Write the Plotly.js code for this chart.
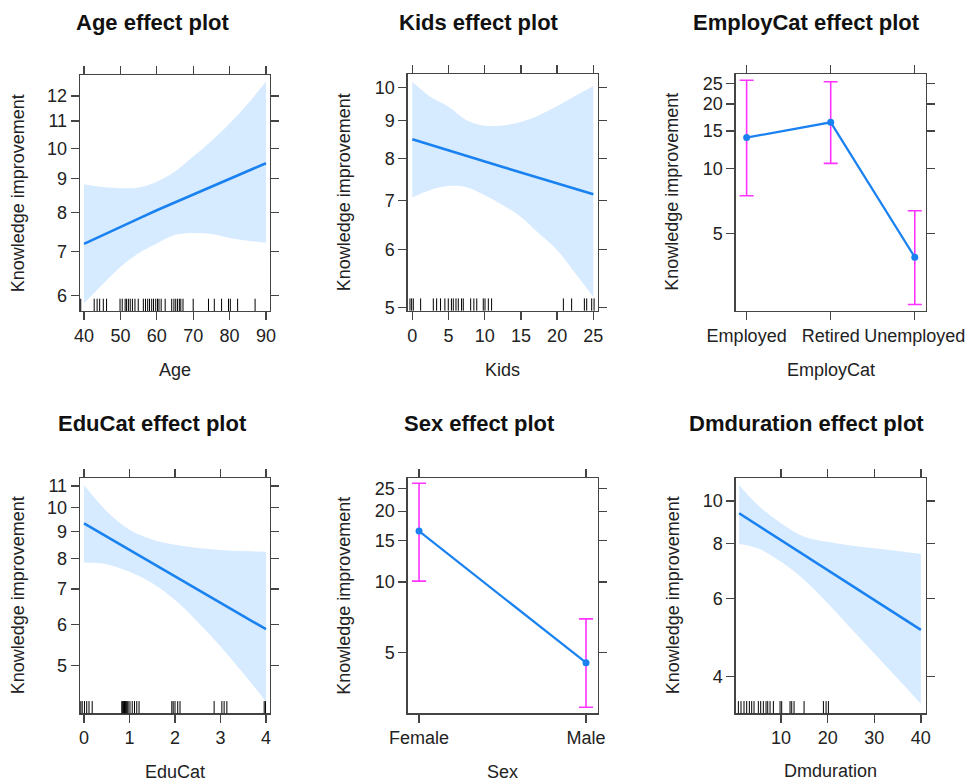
<!DOCTYPE html>
<html>
<head>
<meta charset="utf-8">
<script src="https://cdn.plot.ly/plotly-3.0.1.min.js"></script>
<style>html,body{margin:0;padding:0;background:#fff;}#chart{width:965px;height:783px;}</style>
</head>
<body>
<div id="chart"></div>
<script>
// ---------- DATA ----------
var yTitle = "Knowledge improvement";

// Age
var ageX     = [40, 45, 50, 55, 60, 65, 70, 75, 80, 85, 90];
var ageFit   = [7.18, 7.40, 7.62, 7.84, 8.07, 8.29, 8.51, 8.75, 9.00, 9.25, 9.50];
var ageLower = [5.84, 6.23, 6.63, 6.95, 7.19, 7.41, 7.46, 7.43, 7.33, 7.26, 7.21];
var ageUpper = [8.83, 8.75, 8.71, 8.73, 8.91, 9.23, 9.72, 10.26, 10.90, 11.68, 12.61];
var ageRug   = [39.1, 42.8, 43.6, 44.3, 45.3, 46.2, 49.9, 50.5, 51.3, 51.7, 52.2, 52.7, 53.3, 54.0, 54.9,
                56.3, 56.9, 57.5, 58.0, 58.6, 59.1, 59.7, 60.2, 60.6, 61.2, 62.3, 64.1, 64.7, 65.2, 65.7,
                66.2, 66.6, 67.2, 70.0, 74.2, 75.8, 77.8, 79.7, 80.2, 82.2, 87.0];
var ageXTicks = [40, 50, 60, 70, 80, 90];
var ageYTicks = [6, 7, 8, 9, 10, 11, 12];

// Kids
var kidsX     = [0, 2.5, 5, 7.5, 10, 12.5, 15, 17.5, 20, 22.5, 25];
var kidsFit   = [8.49, 8.34, 8.20, 8.06, 7.92, 7.78, 7.65, 7.52, 7.39, 7.26, 7.14];
var kidsLower = [7.07, 7.24, 7.33, 7.30, 7.12, 6.90, 6.65, 6.31, 5.99, 5.57, 5.17];
var kidsUpper = [10.18, 9.71, 9.41, 9.02, 8.86, 8.87, 8.97, 9.16, 9.43, 9.73, 10.04];
var kidsRug   = [-0.32, -0.09, 0.14, 1.15, 2.9, 3.36, 3.9, 4.5, 4.97, 5.4, 5.66, 6.03, 6.35, 6.8, 7.04,
                 8.06, 8.5, 8.9, 9.8, 10.04, 10.5, 10.95, 20.86, 22.0, 23.76, 24.08, 24.77, 25.1];
var kidsXTicks = [0, 5, 10, 15, 20, 25];
var kidsYTicks = [5, 6, 7, 8, 9, 10];

// EmployCat
var empCats  = ["Employed", "Retired", "Unemployed"];
var empFit   = [13.95, 16.44, 3.87];
var empLower = [7.48, 10.58, 2.33];
var empUpper = [25.8, 25.4, 6.37];
var empYTicks = [5, 10, 15, 20, 25];

// EduCat
var eduX     = [0, 0.5, 1, 1.5, 2, 2.5, 3, 3.5, 4];
var eduFit   = [9.34, 8.81, 8.31, 7.84, 7.39, 6.97, 6.58, 6.21, 5.87];
var eduLower = [7.87, 7.81, 7.55, 7.18, 6.67, 6.06, 5.44, 4.84, 4.27];
var eduUpper = [11.05, 9.85, 9.08, 8.70, 8.50, 8.38, 8.31, 8.27, 8.25];
var eduRug   = [-0.07, -0.04, 0.01, 0.06, 0.11, 0.18, 0.83, 0.85, 0.87, 0.89, 0.91, 0.93, 0.95, 0.97,
                1.01, 1.06, 1.11, 1.16, 1.21, 1.93, 1.96, 2.0, 2.06, 2.11, 2.86, 3.03, 3.08, 3.14, 3.96, 3.99];
var eduXTicks = [0, 1, 2, 3, 4];
var eduYTicks = [5, 6, 7, 8, 9, 10, 11];

// Sex
var sexCats  = ["Female", "Male"];
var sexFit   = [16.45, 4.53];
var sexLower = [10.08, 2.93];
var sexUpper = [26.3, 6.96];
var sexYTicks = [5, 10, 15, 20, 25];

// Dmduration
var dmX     = [1, 5, 10, 15, 20, 25, 30, 35, 40];
var dmFit   = [9.38, 8.81, 8.14, 7.53, 6.97, 6.44, 5.96, 5.51, 5.10];
var dmLower = [7.99, 7.81, 7.28, 6.62, 5.86, 5.14, 4.51, 3.96, 3.47];
var dmUpper = [10.87, 9.79, 8.90, 8.30, 8.08, 7.93, 7.81, 7.70, 7.58];
var dmRug   = [0.84, 1.41, 2.05, 2.63, 3.2, 3.7, 4.2, 5.13, 5.63, 6.2, 6.78, 7.14, 7.64, 8.35, 9.79,
               10.14, 11.93, 12.29, 12.79, 14.94, 19.09, 19.66, 20.16];
var dmXTicks = [10, 20, 30, 40];
var dmYTicks = [4, 6, 8, 10];

// ---------- LAYOUT CONSTANTS ----------
var W = 965, H = 783;
var BLUE = "#1a82f0", BAND = "rgba(0,128,255,0.16)", MAG = "#ff33ff";
var FONT = "Liberation Sans, Arial, sans-serif";

function px(x){ return x / W; }
function py(y){ return 1 - y / H; }

var traces = [];
var shapes = [];
var annotations = [];

function bandPanel(idx, xs, fit, lo, hi, rug){
  var xa = "x" + (idx === 1 ? "" : idx), ya = "y" + (idx === 1 ? "" : idx);
  traces.push({x: xs, y: lo, xaxis: xa, yaxis: ya, mode: "lines",
               line: {width: 0, color: BAND, shape: "spline", smoothing: 1}, hoverinfo: "skip"});
  traces.push({x: xs, y: hi, xaxis: xa, yaxis: ya, mode: "lines", fill: "tonexty",
               fillcolor: BAND, line: {width: 0, color: BAND, shape: "spline", smoothing: 1}, hoverinfo: "skip"});
  traces.push({x: xs, y: fit, xaxis: xa, yaxis: ya, mode: "lines",
               line: {color: BLUE, width: 2.6}, hoverinfo: "skip"});
  rug.forEach(function(v){
    shapes.push({type: "line", xref: xa, yref: ya + " domain", x0: v, x1: v, y0: 0, y1: 0.052,
                 line: {color: "#000", width: 1}});
  });
}

function factorPanel(idx, cats, fit, lo, hi){
  var xa = "x" + idx, ya = "y" + idx;
  var xs = cats.map(function(c, i){ return i; });
  traces.push({x: xs, y: fit, xaxis: xa, yaxis: ya, mode: "lines+markers",
               line: {color: BLUE, width: 2.2}, marker: {color: BLUE, size: 7},
               error_y: {type: "data", symmetric: false,
                         array: fit.map(function(f, i){ return hi[i] - f; }),
                         arrayminus: fit.map(function(f, i){ return f - lo[i]; }),
                         color: MAG, thickness: 1.6, width: 7},
               hoverinfo: "skip"});
}

bandPanel(1, ageX, ageFit, ageLower, ageUpper, ageRug);
bandPanel(2, kidsX, kidsFit, kidsLower, kidsUpper, kidsRug);
factorPanel(3, empCats, empFit, empLower, empUpper);
bandPanel(4, eduX, eduFit, eduLower, eduUpper, eduRug);
factorPanel(5, sexCats, sexFit, sexLower, sexUpper);
bandPanel(6, dmX, dmFit, dmLower, dmUpper, dmRug);

// panel boxes in pixels: [left, right, top, bottom]
var boxes = [
  [80, 270, 75, 311],
  [407.7, 597.7, 74, 310.7],
  [735.7, 925.7, 74, 310.7],
  [80, 270, 478.3, 713.3],
  [407.7, 597.7, 478.3, 713.3],
  [735.7, 926, 478.3, 713.3]
];
var xRanges = [[38.9, 91.1], [-0.635, 25.6], [-0.13, 2.13], [-0.088, 4.088], [-0.068, 1.07], [0.27, 41.1]];
var yRanges = [[5.69, 12.9], [4.95, 10.43], [2.18, 27.6], [4.06, 11.38], [2.76, 27.6], [3.30, 11.26]];
var xTickVals = [ageXTicks, kidsXTicks, [0, 1, 2], eduXTicks, [0, 1], dmXTicks];
var xTickText = [ageXTicks.map(String), kidsXTicks.map(String), empCats, eduXTicks.map(String), sexCats, dmXTicks.map(String)];
var yTickVals = [ageYTicks, kidsYTicks, empYTicks, eduYTicks, sexYTicks, dmYTicks];
var xNames = ["Age", "Kids", "EmployCat", "EduCat", "Sex", "Dmduration"];
var titles = ["Age effect plot", "Kids effect plot", "EmployCat effect plot",
              "EduCat effect plot", "Sex effect plot", "Dmduration effect plot"];
var titleCX = [152, 479, 806.7, 152.5, 479, 806];
var titleCY = [23, 23, 23, 423, 423, 423];
var yTitleCX = [18.3, 344, 672.5, 17.5, 344, 672.5];
var xTitleCY = [370, 370, 370, 772, 772, 771];

var layout = {
  width: W, height: H,
  margin: {l: 0, r: 0, t: 0, b: 0},
  paper_bgcolor: "#fff", plot_bgcolor: "#fff",
  showlegend: false, hovermode: false,
  font: {family: FONT, size: 18, color: "#222"},
  shapes: shapes, annotations: annotations
};

var axBase = {
  showline: true, linecolor: "#444", linewidth: 1.3, mirror: "allticks",
  ticks: "outside", ticklen: 8, tickwidth: 1.3, tickcolor: "#444",
  showgrid: false, zeroline: false, fixedrange: true, ticklabeloverflow: "allow",
  tickfont: {family: FONT, size: 18, color: "#222"}
};
function clone(o){ return JSON.parse(JSON.stringify(o)); }

for (var i = 0; i < 6; i++) {
  var n = i + 1, s = (n === 1 ? "" : String(n));
  var b = boxes[i];
  var xa = clone(axBase), ya = clone(axBase);
  xa.domain = [px(b[0]), px(b[1])];
  xa.anchor = "y" + s;
  xa.range = xRanges[i];
  xa.tickmode = "array"; xa.tickvals = xTickVals[i]; xa.ticktext = xTickText[i];
  ya.domain = [py(b[3]), py(b[2])];
  ya.anchor = "x" + s;
  ya.type = "log";
  ya.range = [Math.log10(yRanges[i][0]), Math.log10(yRanges[i][1])];
  ya.tickmode = "array"; ya.tickvals = yTickVals[i]; ya.ticktext = yTickVals[i].map(String);
  layout["xaxis" + s] = xa;
  layout["yaxis" + s] = ya;

  annotations.push({text: "<b>" + titles[i] + "</b>", xref: "paper", yref: "paper",
                    x: px(titleCX[i]), y: py(titleCY[i]), xanchor: "center", yanchor: "middle",
                    showarrow: false, font: {family: FONT, size: 22, color: "#111"}});
  annotations.push({text: xNames[i], xref: "paper", yref: "paper",
                    x: px((b[0] + b[1]) / 2), y: py(xTitleCY[i]), xanchor: "center", yanchor: "middle",
                    showarrow: false, font: {family: FONT, size: 18, color: "#222"}});
  annotations.push({text: yTitle, xref: "paper", yref: "paper", textangle: -90,
                    x: px(yTitleCX[i]), y: py((b[2] + b[3]) / 2), xanchor: "center", yanchor: "middle",
                    showarrow: false, font: {family: FONT, size: 18, color: "#222"}});
}

Plotly.newPlot("chart", traces, layout, {staticPlot: true, displayModeBar: false});
</script>
</body>
</html>
